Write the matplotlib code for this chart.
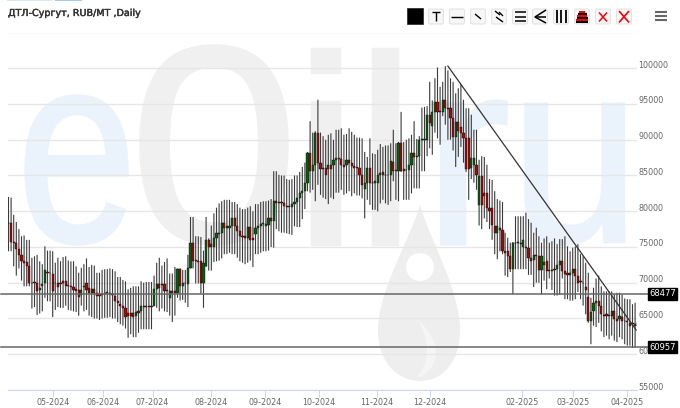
import numpy as np
import matplotlib
matplotlib.use("Agg")
import matplotlib.pyplot as plt
import matplotlib.patheffects as pe
from matplotlib.font_manager import FontProperties
from matplotlib.patches import PathPatch, FancyBboxPatch, Rectangle, Circle
from matplotlib.path import Path
from matplotlib.textpath import TextPath
from matplotlib.transforms import Affine2D, ScaledTranslation, blended_transform_factory

# prices in thousand RUB/MT
opens = [
    78.3,78.4,75.7,75.5,74.7,73.9,73,72.9,72.4,70,
    70.1,70,69,69.6,70,71.5,71.4,71.2,70,69.9,
    70,70.2,70.2,69.7,69.5,69.4,69.1,69,68.3,69.4,
    70,69.2,68.5,69.1,68.5,68.4,68.4,68.6,68.6,68.5,
    68.4,68.2,67.4,67,66.8,66.5,65.7,65.8,65.8,65.3,
    66,66,66.8,66.7,66.7,66.8,66.7,69.1,69.8,69.8,
    69.8,69,67.8,68.8,68.8,68.5,71.9,69.6,70,69.8,
    72,75.5,73.1,73,73,70,72.4,76,75.4,75,
    76.3,76.8,76.9,78.4,77.6,77.6,78,79,78,77.3,
    76.6,76.5,76.2,77.8,76.2,76.8,77.7,78,78.2,78,
    78.1,79,78.7,81.4,81.2,81.3,81.1,80.8,80.6,80.6,
    81,81.3,81.9,82.6,82.8,84,88.2,85.6,86.5,91,
    86.7,86,86,85.9,86.5,86.5,87.1,87.4,87.3,86.5,
    86.5,87.2,86.8,86.3,86.2,86.1,85.1,83.1,84,86,
    84,84,83.9,85.1,85.5,85.1,85,85,86.9,85.6,85.6,
    89.5,85.9,85.8,85.8,86.5,88.1,87.6,87.7,90,90,90,
    93.5,91.9,93.9,95.3,94,93.9,95.5,94.5,94.4,93,
    90.4,92.5,91.8,91,90.2,90.2,86,86.5,86.5,80.9,
    85,82.5,82.5,80.4,80.4,77.9,77,77.7,77.4,74.4,74.4,
    73.8,71.9,75.6,75.6,75.5,75,75,74.8,73.5,73.2,
    73.9,73.7,71.8,72.5,73,71.8,71.7,71.9,71.9,72.5,73,
    71.6,71.3,71.1,71.3,71.9,71,70.3,70,69.4,68,
    64.6,66,67.2,67.5,66.7,65.5,65.6,65.4,65.3,66,65,
    64.9,65.2,64.7,64.6,64.4,64.4,64,64,
]
closes = [
    78.4,75.7,75.5,74.7,73.9,73,72.8,72.4,70,69.9,
    69.9,68.9,69.2,69.8,71.8,71.4,71.3,68.9,69.9,69.4,
    69.8,70,69.6,69.5,69.4,69,68.9,68,69,69.5,
    69,68.6,69.1,68.5,68.2,68.1,68.3,68.4,68.6,68.4,
    68.3,67.4,67.2,66.7,66.4,65.2,65.4,65.4,65.2,65.9,
    65.8,66.8,66.6,66.6,66.6,66.6,69.1,69.8,69.2,69.7,
    68.9,68.8,68.8,68.6,68.6,71.9,69.6,70,69.9,72,
    75.5,73,73,72.9,70,72.8,76,75,75,76.3,
    76.9,76.9,78.4,77.6,78,78,79,78,77.3,76.6,
    76.4,76.2,77.8,76,76,77.7,77.9,78.2,78.4,78.2,
    79,78.7,81.4,81.1,81.2,81.1,80.7,80.6,80.6,81,
    81.3,81.9,82.6,82.8,84,88.2,85.6,86.5,91,86.7,
    85.9,85.9,85,86.5,85.9,87.1,87.5,87.3,86.5,86.2,
    87.2,86.8,86.3,86.1,86.1,85.1,83.7,84,86,84,
    83.9,84.2,85.1,85.3,85,85,85.1,87,85.6,85.7,89.5,
    85.6,85.6,85.7,86.5,88.1,87.6,87.7,90,90,90,93.5,
    92.4,93.9,95.3,93.9,93.9,95.5,94.5,94.3,93,90.4,
    92.5,91.2,91,90.2,85.9,85.9,87.5,87.5,85,85,
    80.9,82.1,80.4,80,78.1,77,77.9,77.4,74.4,74.2,73.7,
    71.9,75.6,75.5,75.6,75.4,76,74.8,73.5,73,73.9,
    73.7,71.8,73.7,72.9,71.6,71.6,71.8,71.8,72.5,73,71.6,
    71.2,71.1,71.3,71.9,71,70,70.1,69.9,69,64.6,
    65.9,67.2,67.5,66.7,65.6,65.4,65.4,65.3,66,64.9,64.7,
    65.4,64.7,64.6,64.5,64,64.3,64.3,64.5,
]
highs = [
    82,81.9,79.5,78.5,77.5,76.5,76.6,76,76,73.5,
    73.7,73.9,73,72.6,75.1,74.5,74.5,74.4,72.8,73.5,
    73,73.6,73.7,73.1,73,73,72.3,71.4,72.1,72.6,
    73.4,72.2,72.5,72.4,71.4,71.4,71.8,71.9,71.9,72,
    71.9,71.6,70.8,70.8,70.4,70.2,69.1,69.3,69.5,69.5,
    69.5,70.2,70,70.1,70.1,70.1,71,72.8,73.5,72.4,
    72.9,73.4,71.3,71.3,72.2,72,72,71.8,71.8,73.9,
    79.2,79.2,76.5,76.5,76.4,74.5,79.2,76.2,78,79.7,
    80.5,81.1,81.4,81.6,81.6,81.6,81.3,81.3,81,80.5,
    80.3,80.3,80.5,80.7,80,81,81,81.3,81.4,81.4,
    81.5,81.7,85.6,85.6,85.1,85,85,84.5,84.4,84.5,
    85,85,85.5,86.2,86.8,88.3,92.6,91,91.2,95.6,
    91,90.5,90,90.7,90.9,90,91.4,91.4,91.6,90.7,
    90.8,91.6,91.1,90.7,90.3,90.3,90.2,88.3,87.6,90.2,
    88.1,88,88.6,89.4,89,89.2,89.2,89.5,91.4,89.5,89.7,
    93.9,89.7,90,90.2,90.7,92.6,90.1,90.5,94.5,94.6,94.7,
    98.1,95.5,98.6,100.1,97.4,98.1,100.3,99.7,98.6,98.1,
    96.5,97.2,97.8,95.6,94.4,94.4,93.5,91.4,91.4,87.2,
    87.7,87.6,86.5,84.5,84.4,82.8,81.7,81.5,81.3,77,76.3,
    75.6,75.7,79.3,79.3,79.3,79.3,79.8,78.9,78.4,77,
    77.7,76.5,75.6,76.2,76.5,75.6,75.8,76.2,75.4,76.1,76.1,
    76.5,75.1,74.4,74.9,75.1,75.4,74,73.7,72.8,71.4,
    67.9,69.3,70.6,71,69.5,68.8,68.8,68.8,68.8,68.4,68.6,
    68.6,68.4,67.8,67.7,67.7,67,67.2,67.6,
]
lows = [
    74.4,74.4,72.3,71,72,70.3,69.5,69.5,69.5,66.4,
    66.6,65.5,65.7,66,67.9,67.4,67.4,65.2,66.2,66.6,
    66.5,66.5,66.8,66.2,66.1,66,65.9,65.4,66.8,66,
    66.2,65.4,65.2,65,65,64.8,65,65.1,65.1,65.2,
    65,65,64.5,64.2,64,63.6,62.3,62.8,62.4,62.4,
    63,63.5,63.5,63.5,63.5,63.5,66.8,66.5,66,66.4,
    66,65.9,65.4,64.5,65.4,67.9,67.5,67.6,67.2,66.6,
    72,72,69.9,69.9,68.5,66.5,72.2,71.7,71.7,72.9,
    73,73.1,73.4,74,74,74.2,74,74,73.5,73,
    72.8,72.6,72.8,73.1,72.2,74,74,74.2,74.4,74.4,
    74.5,75,74.9,77.5,77.2,77,77,76.9,76.8,76.7,
    77.9,77.8,77.8,78.9,80.3,82.8,82.6,83,81.4,83.7,
    82.3,81.9,81.7,81,81.9,81.7,82.6,82.6,83,82.3,
    82.5,82.8,82.1,82.5,82.2,82.2,81.8,79,81.6,80.9,
    80.2,80.2,80,81.1,81.6,81.1,80.9,81.4,84.2,81.6,81.4,
    85.5,81.6,81.6,81.6,82.5,83.2,83.2,83.2,85.6,85.6,87.7,
    88.8,87.9,91,90.2,89.3,93.3,92.1,90,90,88.5,
    86.2,87.6,89,86.8,85.5,81.6,84.5,84,83,78,
    77.5,79,78.5,77.5,76,74,73.3,74.4,74,71,70.8,
    71.5,68.4,71.9,71.9,71.9,71.9,71.9,71.1,71.1,69.4,
    70,70,68.4,70.3,69.1,70.6,69,68.2,68.2,68.3,70.6,
    67.7,67.7,67.5,67.5,67.7,68.7,67.7,66.8,65.6,64.4,
    61.4,64,63.8,64.4,63.2,62.4,62.6,62.1,62.6,61.9,61.7,
    62.4,62.1,61.4,61.2,61.2,60.9,61,61.2,
]

month_labels = ["05-2024", "06-2024", "07-2024", "08-2024", "09-2024", "10-2024",
                "11-2024", "12-2024", "02-2025", "03-2025", "04-2025"]
month_bars = [17.1, 36.3, 55.4, 77.9, 98.7, 119.4, 141.7, 162.1, 197.5, 217.1, 237.9]
price_ticks = [55000, 60000, 65000, 70000, 75000, 80000, 85000, 90000, 95000, 100000, 105000]
level_lines = [68477, 60957]
trend_bars = [169, 241.4]
trend_prices = [100300, 63400]

W, H = 680, 408
STEP = 2.6
fig = plt.figure(figsize=(W / 100, H / 100), dpi=100, facecolor="white")

# background layer in pixel coordinates: eOil.ru watermark
bg = fig.add_axes([0, 0, 1, 1], zorder=0)
bg.set_xlim(0, W)
bg.set_ylim(H, 0)
bg.axis("off")


def glyph(ch, x0, x1, y0, y1, color):
    tp = TextPath((0, 0), ch, size=100, prop=FontProperties(family="Liberation Sans"))
    ext = tp.get_extents()
    tr = Affine2D().translate(-ext.x0, -ext.y0).scale((x1 - x0) / ext.width, -(y1 - y0) / ext.height).translate(x0, y1)
    bg.add_patch(PathPatch(tr.transform_path(tp), fc=color, ec=color, lw=2.5))


blue = "#eaf3fb"
grey = "#f0f0f0"
glyph("e", 26, 127, 96, 244, blue)
glyph("0", 141, 287, 46, 244, grey)
glyph("i", 312, 339, 49, 244, grey)
glyph("l", 373, 397, 49, 244, grey)
glyph("r", 441, 506, 101, 244, blue)
glyph("u", 526, 624, 104, 244, blue)

drop = Path(
    [(420, 205), (410, 240), (378, 290), (378, 330),
     (378, 365), (400, 381), (420, 381),
     (440, 381), (460, 365), (460, 330),
     (460, 290), (430, 240), (420, 205)],
    [Path.MOVETO] + [Path.CURVE4] * 12,
)
bg.add_patch(PathPatch(drop, fc="#eeeeee", ec="none"))
bg.add_patch(Circle((420, 267), 14, fc="white", ec="none"))
swirl = Path([(418, 320), (432, 345), (428, 365), (416, 378), (438, 372), (446, 345), (418, 320)],
             [Path.MOVETO] + [Path.CURVE4] * 6)
bg.add_patch(PathPatch(swirl, fc="#f5f5f5", ec="none"))

# main chart
ax = fig.add_axes([8 / W, 1 - 390 / H, 629 / W, (390 - 32.5) / H], zorder=1)
ax.patch.set_alpha(0)
ax.set_xlim((8 - 8.5) / STEP, (637 - 8.5) / STEP)
ax.set_ylim(55000, 105000)

for s in ["top", "left", "right"]:
    ax.spines[s].set_visible(False)
ax.spines["bottom"].set_color("#ccd6eb")
ax.spines["bottom"].set_linewidth(0.8)

ax.yaxis.tick_right()
ax.set_yticks(price_ticks)
ax.set_yticklabels([str(p) if p != 105000 else "" for p in price_ticks])
ax.tick_params(axis="y", length=0, pad=1, labelsize=5.8, labelcolor="#666666")
ax.set_xticks(month_bars)
ax.set_xticklabels(month_labels)
ax.tick_params(axis="x", length=5, width=0.7, color="#ccd6eb", pad=0.5, labelsize=5.8, labelcolor="#666666")
ax.grid(axis="y", color="#e6e6e6", linewidth=1)
ax.set_axisbelow(True)
for lab in ax.get_yticklabels():
    lab.set_transform(lab.get_transform() + ScaledTranslation(0, 4 / 100, fig.dpi_scale_trans))

o = np.array(opens) * 1000
c = np.array(closes) * 1000
h = np.array(highs) * 1000
l = np.array(lows) * 1000
x = np.arange(len(o))

wicks = ax.vlines(x, l, h, color="#3a3a3a", linewidth=0.8, zorder=2)
wicks.set_snap(False)
body_colors = ["#0b5a12" if b >= a else "#9c0a0a" for a, b in zip(o, c)]
bars = ax.bar(x, np.maximum(np.abs(c - o), 120), bottom=np.minimum(o, c), width=0.8,
              color=body_colors, edgecolor="#111111", linewidth=0.3, zorder=3)

ax.plot(trend_bars, trend_prices, color="#333333", linewidth=0.9, zorder=4)

for lv in level_lines:
    ax.axhline(lv, xmin=-7 / 629, xmax=1.02, color="#666666", linewidth=1.1, clip_on=False, zorder=5)
    ax.text(649 / W, lv, str(lv), transform=blended_transform_factory(fig.transFigure, ax.transData),
            color="white", fontsize=6, va="center", ha="left", zorder=6,
            bbox=dict(facecolor="black", edgecolor="black", pad=1))

# title and toolbar, pixel coordinates again
top = fig.add_axes([0, 0, 1, 1], zorder=2)
top.patch.set_alpha(0)
top.set_xlim(0, W)
top.set_ylim(H, 0)
top.axis("off")

top.add_patch(Rectangle((7, 0), 45, 1, fc="#d8e8f5", ec="none"))
top.add_patch(Rectangle((55, 0), 27, 1, fc="#a5cbe9", ec="none"))
top.text(8, 13, "ДТЛ-Сургут, RUB/MT ,Daily", fontsize=6.9, color="#333333", va="center", ha="left",
         path_effects=[pe.withStroke(linewidth=0.3, foreground="#333333")])

top.add_patch(Rectangle((407, 8), 16, 16, fc="black", ec="#222222", lw=0.5))
centers = [436, 457, 478, 499, 520, 540, 561, 582, 603, 624]
for cx in centers:
    top.add_patch(FancyBboxPatch((cx - 6.5, 10), 13, 13, boxstyle="round,pad=1,rounding_size=2",
                                 fc="#f7f7f7", ec="#e3e3e3", lw=0.8))


def icon(pts, color="black", lw=1.0):
    top.plot([p[0] for p in pts], [p[1] for p in pts], color=color, lw=lw, solid_capstyle="butt")


icon([(432, 12), (440, 12)])
icon([(436, 12), (436, 21)])
icon([(451, 17), (463, 17)])
icon([(475, 14), (481, 19)])
icon([(495, 11), (500, 15)])
icon([(496, 17), (503, 22)])
icon([(499, 12), (503, 16)])
for yy in [11.5, 16.5, 21]:
    icon([(514.5, yy), (525.5, yy)], lw=1.1)
icon([(546, 10), (535, 17), (546, 23)], lw=1.1)
icon([(535, 17), (546, 17)], lw=1.1)
for xx in [556.5, 561, 565.5]:
    icon([(xx, 10), (xx, 23)], lw=1.3)
for yy, hw, col in [(11.5, 3, "red"), (13.5, 4.5, "black"), (15.5, 5, "red"), (17.5, 5.5, "black"),
                    (20, 6, "red"), (22, 6, "black")]:
    icon([(582 - hw, yy), (582 + hw, yy)], color=col, lw=1.5)
icon([(599, 12.5), (607, 21.5)], color="red", lw=1.1)
icon([(607, 12.5), (599, 21.5)], color="red", lw=1.1)
icon([(619, 11), (629, 22.5)], color="red", lw=1.2)
icon([(629, 11), (619, 22.5)], color="red", lw=1.2)
for yy in [12, 16, 20]:
    icon([(655, yy), (667, yy)], color="#666666", lw=1.5)

fig.savefig("out.png", dpi=100)
